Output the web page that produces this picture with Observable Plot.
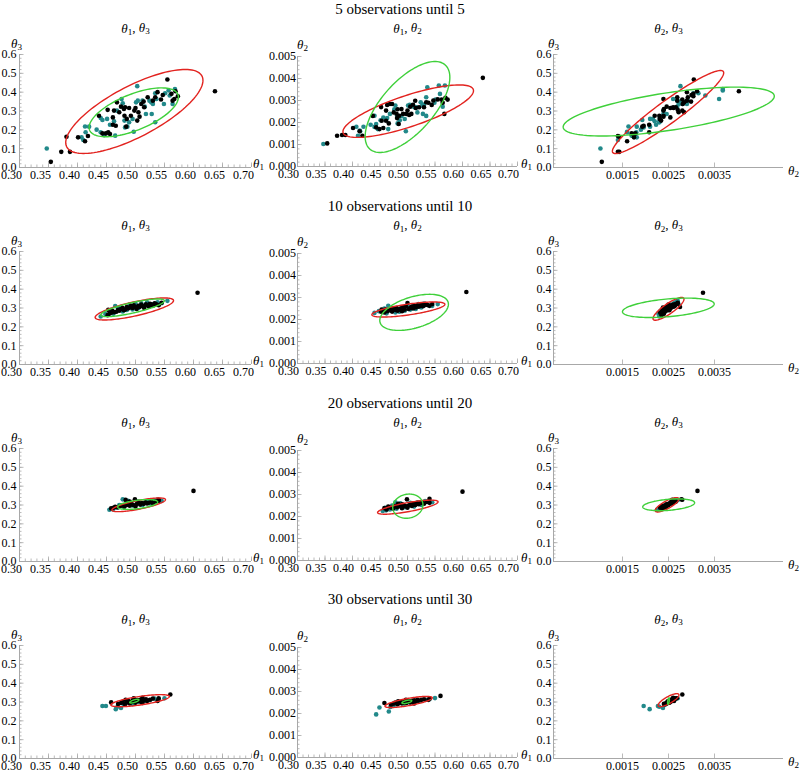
<!DOCTYPE html>
<html><head><meta charset="utf-8">
<script src="https://cdn.jsdelivr.net/npm/d3@7"></script>
<script src="https://cdn.jsdelivr.net/npm/@observablehq/plot@0.6"></script>
<style>
body{margin:0;background:#fff;font-family:"Liberation Serif",serif}
#root{position:relative;width:800px;height:776px;overflow:hidden;background:#fff}
.rowtitle{position:absolute;left:0;width:800px;text-align:center;font-size:15px;line-height:18px;color:#000;font-family:"Liberation Serif",serif}
#root svg, #root svg text, #root svg tspan{font-family:"Liberation Serif",serif !important}
</style></head><body><div id="root"></div><script>
// ---------------- data ----------------
const rowTitles = ["5 observations until 5","10 observations until 10","20 observations until 20","30 observations until 30"];
const panelTitles = ["θ₁, θ₃","θ₁, θ₂","θ₂, θ₃"];
const theta1Ticks = [0.30,0.35,0.40,0.45,0.50,0.55,0.60,0.65,0.70];
const theta3Ticks = [0.0,0.1,0.2,0.3,0.4,0.5,0.6];
const theta2Ticks = [0.000,0.001,0.002,0.003,0.004,0.005];
const theta2XTicks = [0.0015,0.0025,0.0035];

// samples: [theta1, theta2, theta3]
const black5 = [
[0.354,0.00105,0.030],[0.372,0.00140,0.083],[0.381,0.00143,0.163],[0.387,0.00143,0.083],
[0.401,0.00175,0.160],[0.413,0.00160,0.139],[0.418,0.00140,0.167],[0.437,0.00230,0.275],
[0.443,0.00178,0.181],[0.449,0.00170,0.181],[0.453,0.00208,0.187],[0.456,0.00175,0.178],
[0.452,0.00270,0.306],[0.461,0.00254,0.266],[0.461,0.00208,0.227],[0.466,0.00196,0.222],
[0.468,0.00284,0.346],[0.472,0.00284,0.293],[0.475,0.00246,0.323],[0.480,0.00240,0.311],
[0.484,0.00193,0.217],[0.485,0.00231,0.258],[0.489,0.00261,0.316],[0.492,0.00239,0.275],
[0.498,0.00239,0.302],[0.500,0.00254,0.316],[0.503,0.00234,0.249],[0.505,0.00272,0.293],
[0.507,0.00239,0.270],[0.510,0.00281,0.337],[0.514,0.00299,0.350],[0.515,0.00266,0.320],
[0.521,0.00269,0.373],[0.530,0.00269,0.355],[0.534,0.00292,0.373],[0.538,0.00290,0.400],
[0.544,0.00280,0.361],[0.547,0.00300,0.385],[0.555,0.00305,0.467],[0.562,0.00304,0.391],
[0.567,0.00239,0.364],[0.564,0.00290,0.355],[0.569,0.00312,0.405],[0.573,0.00304,0.378],
[0.637,0.00403,0.405],[0.463,0.00280,0.302],[0.482,0.00260,0.320],[0.481,0.00220,0.275]
];
const teal5 = [
[0.347,0.00102,0.101],[0.407,0.00181,0.160],[0.410,0.00140,0.146],[0.413,0.00163,0.218],
[0.420,0.00181,0.217],[0.414,0.00160,0.187],[0.440,0.00231,0.263],[0.443,0.00193,0.252],
[0.451,0.00210,0.258],[0.433,0.00190,0.201],[0.440,0.00180,0.187],[0.446,0.00170,0.172],
[0.456,0.00223,0.227],[0.463,0.00220,0.245],[0.465,0.00170,0.169],[0.468,0.00239,0.302],
[0.478,0.00277,0.341],[0.476,0.00260,0.364],[0.481,0.00231,0.249],[0.482,0.00196,0.213],
[0.489,0.00230,0.240],[0.486,0.00210,0.217],[0.495,0.00216,0.258],[0.501,0.00277,0.346],
[0.504,0.00280,0.355],[0.497,0.00160,0.190],[0.503,0.00276,0.432],[0.512,0.00270,0.355],
[0.518,0.00246,0.284],[0.516,0.00269,0.323],[0.524,0.00292,0.355],[0.527,0.00280,0.346],
[0.528,0.00239,0.284],[0.534,0.00315,0.394],[0.534,0.00230,0.240],[0.536,0.00360,0.364],
[0.551,0.00304,0.394],[0.557,0.00368,0.409],[0.559,0.00330,0.382],[0.568,0.00368,0.417],
[0.564,0.00272,0.337],[0.549,0.00290,0.337],[0.530,0.00280,0.337]
];
const black10 = [
[0.452,0.00235,0.262],[0.455,0.00240,0.270],[0.458,0.00232,0.275],[0.460,0.00245,0.285],
[0.463,0.00238,0.278],[0.467,0.00242,0.280],[0.470,0.00250,0.290],[0.472,0.00236,0.285],
[0.475,0.00248,0.295],[0.478,0.00243,0.300],[0.480,0.00252,0.288],[0.482,0.00240,0.292],
[0.485,0.00246,0.305],[0.487,0.00250,0.298],[0.490,0.00238,0.302],[0.492,0.00255,0.310],
[0.495,0.00245,0.300],[0.497,0.00260,0.315],[0.500,0.00275,0.305],[0.502,0.00248,0.295],
[0.505,0.00252,0.312],[0.507,0.00258,0.305],[0.510,0.00250,0.318],[0.512,0.00262,0.310],
[0.515,0.00255,0.300],[0.518,0.00265,0.320],[0.520,0.00258,0.315],[0.523,0.00262,0.308],
[0.525,0.00268,0.322],[0.528,0.00260,0.318],[0.530,0.00264,0.312],[0.533,0.00270,0.325],
[0.536,0.00266,0.320],[0.540,0.00262,0.315],[0.545,0.00270,0.328],[0.453,0.00245,0.290],
[0.607,0.00325,0.381]
];
const teal10 = [
[0.440,0.00230,0.255],[0.448,0.00238,0.268],[0.458,0.00250,0.290],[0.462,0.00228,0.270],
[0.470,0.00240,0.300],[0.478,0.00232,0.282],[0.485,0.00235,0.290],[0.490,0.00255,0.318],
[0.495,0.00240,0.292],[0.500,0.00262,0.322],[0.505,0.00245,0.300],[0.510,0.00265,0.325],
[0.515,0.00248,0.305],[0.520,0.00270,0.330],[0.525,0.00255,0.310],[0.530,0.00272,0.320],
[0.538,0.00265,0.330],[0.545,0.00262,0.325],[0.555,0.00270,0.338],[0.475,0.00252,0.305],
[0.465,0.00262,0.310]
];
const black20 = [
[0.458,0.00238,0.282],[0.462,0.00232,0.285],[0.465,0.00245,0.290],[0.470,0.00240,0.288],
[0.474,0.00236,0.295],[0.478,0.00248,0.298],[0.481,0.00242,0.292],[0.485,0.00250,0.300],
[0.488,0.00245,0.304],[0.490,0.00238,0.296],[0.493,0.00252,0.308],[0.496,0.00247,0.300],
[0.499,0.00278,0.330],[0.502,0.00250,0.305],[0.505,0.00255,0.312],[0.508,0.00248,0.302],
[0.511,0.00258,0.310],[0.514,0.00252,0.306],[0.517,0.00262,0.315],[0.520,0.00256,0.308],
[0.523,0.00260,0.312],[0.527,0.00264,0.318],[0.530,0.00258,0.310],[0.535,0.00266,0.318],
[0.540,0.00262,0.322],[0.490,0.00256,0.318],[0.483,0.00258,0.327],[0.500,0.00240,0.292],
[0.540,0.00280,0.328],[0.600,0.00313,0.375]
];
const teal20 = [
[0.455,0.00225,0.275],[0.460,0.00240,0.280],[0.461,0.00228,0.277],[0.468,0.00232,0.285],
[0.472,0.00250,0.300],[0.480,0.00235,0.290],[0.487,0.00260,0.322],[0.495,0.00242,0.298],
[0.505,0.00262,0.318],[0.512,0.00245,0.300],[0.520,0.00265,0.320],[0.525,0.00252,0.308],
[0.532,0.00270,0.325],[0.538,0.00268,0.329],[0.545,0.00265,0.322],[0.478,0.00265,0.330]
];
const black30 = [
[0.458,0.00248,0.298],[0.470,0.00240,0.290],[0.475,0.00245,0.295],[0.478,0.00250,0.300],
[0.482,0.00242,0.288],[0.485,0.00248,0.298],[0.488,0.00252,0.305],[0.490,0.00246,0.292],
[0.493,0.00250,0.300],[0.495,0.00255,0.308],[0.498,0.00248,0.302],[0.500,0.00252,0.296],
[0.503,0.00256,0.310],[0.505,0.00250,0.305],[0.508,0.00258,0.312],[0.510,0.00254,0.300],
[0.512,0.00260,0.322],[0.515,0.00256,0.310],[0.518,0.00262,0.315],[0.520,0.00258,0.305],
[0.525,0.00262,0.312],[0.530,0.00265,0.318],[0.538,0.00262,0.305],[0.540,0.00268,0.320],
[0.560,0.00280,0.340],[0.483,0.00255,0.312],[0.497,0.00262,0.320],[0.512,0.00246,0.295]
];
const teal30 = [
[0.443,0.00196,0.279],[0.449,0.00227,0.279],[0.466,0.00209,0.262],[0.469,0.00230,0.275],
[0.475,0.00238,0.268],[0.480,0.00242,0.285],[0.495,0.00245,0.290],[0.515,0.00255,0.305],
[0.525,0.00258,0.310],[0.533,0.00262,0.318],[0.550,0.00270,0.320],[0.540,0.00265,0.315],
[0.505,0.00250,0.300]
];
const blackSets = [black5, black10, black20, black30];
const tealSets = [teal5, teal10, teal20, teal30];

// ellipses per panel (θ1θ3, θ1θ2, θ2θ3): [cx, cy, rx, ry, corr]
const red5 = [[0.498,0.2975,0.1183,0.223,0.74],[0.5013,0.002515,0.1187,0.001193,0.78],[0.00249,0.2945,0.00121,0.2205,0.944]];
const green5 = [[0.497,0.293,0.077,0.1297,0.62],[0.500,0.002705,0.077,0.002067,0.65],[0.002505,0.297,0.002295,0.1297,0.63]];
const red10 = [[0.498,0.2948,0.0676,0.0586,0.76],[0.5016,0.002454,0.0664,0.000342,0.69],[0.0025,0.2955,0.000337,0.0605,0.85]];
const green10 = [[0.495,0.301,0.0548,0.047,0.8],[0.512,0.002325,0.0624,0.00082,0.45],[0.002496,0.301,0.000997,0.0516,0.4]];
const red20 = [[0.5055,0.301,0.0462,0.0363,0.76],[0.5006,0.002424,0.055,0.00032,0.76],[0.002467,0.301,0.000256,0.038,0.8]];
const green20 = [[0.5037,0.3028,0.0346,0.026,0.5],[0.5006,0.00247,0.0275,0.00055,0.1],[0.002504,0.301,0.000564,0.0313,0.35]];
const red30 = [[0.508,0.307,0.0505,0.032,0.7],[0.502,0.002523,0.043,0.000253,0.75],[0.0025,0.3097,0.000227,0.0346,0.8]];
const green30 = [[0.498,0.3045,0.008,0.01,0.7],[0.4988,0.00253,0.009,0.00008,0.6],[0.0025,0.305,0.00002,0.017,0.5]];
const redSets = [red5, red10, red20, red30];
const greenSets = [green5, green10, green20, green30];

// ---------------- panel definitions & layout ----------------
const panelDefs = [
  {xi:0, yi:2, xDomain:[0.30,0.70], yDomain:[0,0.6], xTicks:theta1Ticks, yTicks:theta3Ticks, xFmt:d=>d.toFixed(2), yFmt:d=>d.toFixed(1), xMinorStep:0.01, yMinorStep:0.02, xLabel:"θ₁", yLabel:"θ₃"},
  {xi:0, yi:1, xDomain:[0.30,0.70], yDomain:[0,0.005], xTicks:theta1Ticks, yTicks:theta2Ticks, xFmt:d=>d.toFixed(2), yFmt:d=>d.toFixed(3), xMinorStep:0.01, yMinorStep:0.0002, xLabel:"θ₁", yLabel:"θ₂"},
  {xi:1, yi:2, xDomain:[0,0.005], yDomain:[0,0.6], xTicks:theta2XTicks, yTicks:theta3Ticks, xFmt:d=>d.toFixed(4), yFmt:d=>d.toFixed(1), xMinorStep:null, yMinorStep:0.02, xLabel:"θ₂", yLabel:"θ₃"}
];
const layout = {
  rowTop:[0,197,394,591], titleTop:[0,197,394,590], svgTop:36, svgH:148,
  panels:[
    {left:0,   width:265, ml:19, mr:14, mt:18, mb:17, yPad:3,   xDx:-8, titleDy:-26, yLabDx:-3, yLabDy:-11, xLabDx:7,  xLabDy:-4},
    {left:265, width:265, ml:32, mr:13, mt:20, mb:18, yPad:1.5, xDx:-9, titleDy:-28, yLabDx:5,  yLabDy:-12, xLabDx:9,  xLabDy:-3},
    {left:530, width:270, ml:23, mr:17, mt:18, mb:17, yPad:2,   xDx:0,  titleDy:-26, yLabDx:0,  yLabDy:-11, xLabDx:10, xLabDy:3}
  ]
};
const colors = {black:"#000000", teal:"#22898a", red:"#e2231f", green:"#3fd03a", axis:"#a8a8a8"};
const FONT = "'Liberation Serif', serif";

function ellipse([cx, cy, rx, ry, rho]) {
  const d = Math.acos(rho);
  return d3.range(0, 361, 3).map(a => {
    const t = a * Math.PI / 180;
    return {x: cx + rx * Math.cos(t), y: cy + ry * Math.cos(t + d)};
  });
}

function fancify(svg) {
  const NS = "http://www.w3.org/2000/svg";
  svg.querySelectorAll("text").forEach(t => {
    t.setAttribute("font-family", FONT);
    const s = t.textContent;
    if (!s.includes("θ") || t.children.length) return;
    t.textContent = "";
    let shifted = false, buf = "";
    const flush = () => {
      if (!buf) return;
      const ts = document.createElementNS(NS, "tspan");
      ts.textContent = buf;
      if (shifted) { ts.setAttribute("dy", "-0.3em"); shifted = false; }
      t.appendChild(ts); buf = "";
    };
    for (const ch of s) {
      const si = "₁₂₃".indexOf(ch);
      if (ch === "θ") {
        flush();
        const ts = document.createElementNS(NS, "tspan");
        ts.setAttribute("font-style", "italic");
        ts.textContent = ch;
        if (shifted) { ts.setAttribute("dy", "-0.3em"); shifted = false; }
        t.appendChild(ts);
      } else if (si >= 0) {
        flush();
        const ts = document.createElementNS(NS, "tspan");
        ts.textContent = String(si + 1);
        ts.setAttribute("font-size", "0.7em");
        ts.setAttribute("dy", "0.3em");
        t.appendChild(ts);
        shifted = true;
      } else buf += ch;
    }
    flush();
  });
}

const root = document.getElementById("root");
rowTitles.forEach((title, r) => {
  const div = document.createElement("div");
  div.className = "rowtitle";
  div.style.top = layout.titleTop[r] + "px";
  div.textContent = title;
  root.appendChild(div);
  panelDefs.forEach((P, p) => {
    const L = layout.panels[p];
    const plotW = L.width - L.ml - L.mr;
    const plotH = layout.svgH - L.mt - L.mb;
    const X = d => d[P.xi], Y = d => d[P.yi];
    const yMinor = d3.range(P.yDomain[0], P.yDomain[1] + P.yMinorStep / 2, P.yMinorStep);
    const marks = [
      Plot.ruleX([P.xDomain[0]], {stroke: colors.axis, strokeWidth: 1}),
      Plot.ruleY([P.yDomain[0]], {stroke: colors.axis, strokeWidth: 1}),
      Plot.tickY(yMinor, {y: d => d, insetRight: plotW - 2.5, stroke: colors.axis, strokeWidth: 0.8}),
      Plot.tickY(P.yTicks, {y: d => d, insetRight: plotW - 4.5, stroke: colors.axis, strokeWidth: 0.8}),
      Plot.tickX(P.xTicks, {x: d => d, insetTop: plotH - 4.5, stroke: colors.axis, strokeWidth: 0.8}),
      Plot.axisX({ticks: P.xTicks, tickFormat: P.xFmt, tickSize: 0, tickPadding: 3, dx: L.xDx, label: null, fontSize: 12, fontFamily: FONT}),
      Plot.axisY({ticks: P.yTicks, tickFormat: P.yFmt, tickSize: 0, tickPadding: L.yPad, label: null, fontSize: 12, fontFamily: FONT}),
      Plot.dot(tealSets[r], {x: X, y: Y, r: 2.3, fill: colors.teal}),
      Plot.dot(blackSets[r], {x: X, y: Y, r: 2.3, fill: colors.black}),
      Plot.line(ellipse(redSets[r][p]), {x: "x", y: "y", stroke: colors.red, strokeWidth: 1.4}),
      Plot.line(ellipse(greenSets[r][p]), {x: "x", y: "y", stroke: colors.green, strokeWidth: 1.4}),
      Plot.text([panelTitles[p]], {frameAnchor: "top", dy: L.titleDy, fontSize: 13, fontFamily: FONT, textAnchor: "middle", lineAnchor: "middle"}),
      Plot.text([P.yLabel], {frameAnchor: "top-left", dx: L.yLabDx, dy: L.yLabDy, fontSize: 13, fontFamily: FONT, textAnchor: "middle", lineAnchor: "middle"}),
      Plot.text([P.xLabel], {frameAnchor: "bottom-right", dx: L.xLabDx, dy: L.xLabDy, fontSize: 13, fontFamily: FONT, textAnchor: "middle", lineAnchor: "middle"})
    ];
    if (P.xMinorStep) {
      const xMinor = d3.range(P.xDomain[0], P.xDomain[1] + P.xMinorStep / 2, P.xMinorStep);
      marks.splice(4, 0, Plot.tickX(xMinor, {x: d => d, insetTop: plotH - 2.5, stroke: colors.axis, strokeWidth: 0.8}));
    }
    const svg = Plot.plot({
      width: L.width, height: layout.svgH,
      marginLeft: L.ml, marginRight: L.mr, marginTop: L.mt, marginBottom: L.mb,
      x: {domain: P.xDomain, label: null},
      y: {domain: P.yDomain, label: null},
      style: {fontFamily: FONT, fontSize: "12px", background: "transparent", overflow: "visible", color: "#000"},
      marks
    });
    svg.setAttribute("font-family", FONT);
    fancify(svg);
    svg.style.position = "absolute";
    svg.style.left = L.left + "px";
    svg.style.top = (layout.rowTop[r] + layout.svgTop) + "px";
    root.appendChild(svg);
  });
});
</script></body></html>
